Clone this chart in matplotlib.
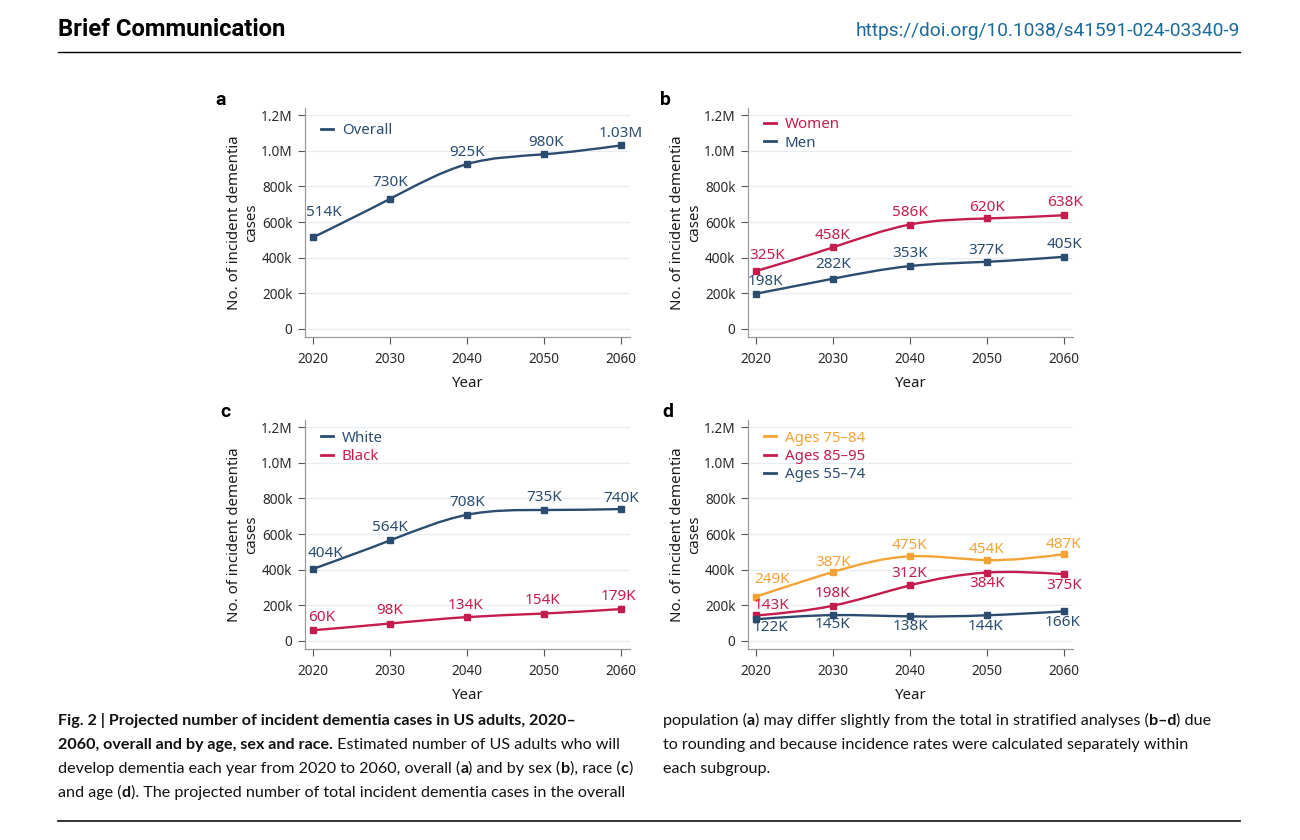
import numpy as np
import matplotlib.pyplot as plt
from matplotlib.path import Path
from matplotlib.patches import PathPatch
from matplotlib.lines import Line2D

# data (thousands of incident dementia cases)
years = [2020, 2030, 2040, 2050, 2060]

overall = [514, 730, 925, 980, 1030]
overall_lbl = ["514K", "730K", "925K", "980K", "1.03M"]
women = [325, 458, 586, 620, 638]
men = [198, 282, 353, 377, 405]
white = [404, 564, 708, 735, 740]
black = [60, 98, 134, 154, 179]
age_75_84 = [249, 387, 475, 454, 487]
age_85_95 = [143, 198, 312, 384, 375]
age_55_74 = [122, 145, 138, 144, 166]

yticks = [0, 200000, 400000, 600000, 800000, 1000000, 1200000]
ytick_lbl = ["0", "200k", "400k", "600k", "800k", "1.0M", "1.2M"]

NAVY = "#2b4c6f"
RED = "#c41c4c"
ORANGE = "#f4a336"
FONT = ["Noto Sans", "DejaVu Sans"]
CAPFONT = ["Lato", "DejaVu Sans"]
BOLDFONT = ["Roboto", "DejaVu Sans"]

W, H = 1300, 840
fig = plt.figure(figsize=(13, 8.4), dpi=100)
fig.patch.set_facecolor("white")


def kfmt(v):
    return "%dK" % v


def smooth_path(x, y):
    # natural cubic spline drawn as bezier segments
    x = np.asarray(x, float)
    y = np.asarray(y, float)
    n = len(x)
    h = x[1] - x[0]
    A = np.zeros((n, n))
    b = np.zeros(n)
    A[0, 0] = A[-1, -1] = 1
    for i in range(1, n - 1):
        A[i, i - 1:i + 2] = [1, 4, 1]
        b[i] = 6 / h**2 * (y[i + 1] - 2 * y[i] + y[i - 1])
    M = np.linalg.solve(A, b)
    m = np.zeros(n)
    for i in range(n - 1):
        m[i] = (y[i + 1] - y[i]) / h - h * (2 * M[i] + M[i + 1]) / 6
    m[-1] = (y[-1] - y[-2]) / h + h * (M[-2] + 2 * M[-1]) / 6
    verts = [(x[0], y[0])]
    codes = [Path.MOVETO]
    for i in range(n - 1):
        verts += [(x[i] + h / 3, y[i] + m[i] * h / 3),
                  (x[i + 1] - h / 3, y[i + 1] - m[i + 1] * h / 3),
                  (x[i + 1], y[i + 1])]
        codes += [Path.CURVE4] * 3
    return Path(verts, codes)


def panel(rect, series, letter, letter_xy, legend_y):
    ax = fig.add_axes(rect)
    for s in series:
        vals = np.array(s["vals"]) * 1000
        ax.add_patch(PathPatch(smooth_path(years, vals), fill=False,
                               ec=s["color"], lw=1.7, zorder=3))
        ax.plot(years, vals, ls="none", marker="s", ms=4.2, color=s["color"], zorder=4)
        labels = s.get("labels") or [kfmt(v) for v in s["vals"]]
        for xx, yy, lb, off in zip(years, vals, labels, s["off"]):
            ax.annotate(lb, (xx, yy), xytext=off, textcoords="offset pixels",
                        ha="center", va="center", color=s["color"],
                        fontsize=11, family=FONT, zorder=5)
    ax.set_xlim(2018.96, 2061.2)
    ax.set_ylim(-45000, 1240000)
    ax.set_xticks(years)
    ax.set_yticks(yticks)
    ax.set_yticklabels(ytick_lbl)
    for t in ax.get_xticklabels() + ax.get_yticklabels():
        t.set_family(FONT)
    ax.tick_params(labelsize=9.8, labelcolor="#2a2a2a", color="#555555",
                   length=5, width=0.8)
    ax.tick_params(axis="y", pad=4)
    ax.tick_params(axis="x", pad=6)
    for sp in ["top", "right"]:
        ax.spines[sp].set_visible(False)
    for sp in ["left", "bottom"]:
        ax.spines[sp].set_color("#9a9a9a")
        ax.spines[sp].set_linewidth(0.9)
    ax.yaxis.grid(True, color="#e7edf1", lw=0.9)
    ax.set_axisbelow(True)
    ax.set_xlabel("Year", fontsize=10.8, family=FONT, color="#1a1a1a", labelpad=6)
    ax.set_ylabel("No. of incident dementia\ncases", fontsize=10.8, family=FONT,
                  color="#1a1a1a", labelpad=1, linespacing=1.2)
    handles = [Line2D([], [], color=s["color"], lw=2) for s in series]
    leg = ax.legend(handles, [s["name"] for s in series], loc="upper left",
                    bbox_to_anchor=(0.03, legend_y), frameon=False,
                    handlelength=0.8, handletextpad=0.6, labelspacing=0.22,
                    prop={"family": FONT, "size": 10.8}, borderaxespad=0)
    for t, s in zip(leg.get_texts(), series):
        t.set_color(s["color"])
    fig.text(letter_xy[0] / W, 1 - letter_xy[1] / H, letter, fontsize=14,
             fontweight="bold", family=BOLDFONT, ha="left", va="center")
    return ax


aw, ah = 325 / W, 229 / H
panel([305 / W, 1 - 337 / H, aw, ah],
      [dict(name="Overall", vals=overall, labels=overall_lbl, color=NAVY,
            off=[(11, 25), (0, 16), (0, 12), (2, 12), (0, 12)])],
      "a", (215, 100), 0.96)
panel([748 / W, 1 - 337 / H, aw, ah],
      [dict(name="Women", vals=women, color=RED,
            off=[(11, 16), (0, 12), (0, 12), (0, 11), (1, 13)]),
       dict(name="Men", vals=men, color=NAVY,
            off=[(9, 12), (0, 14), (0, 13), (-1, 11), (1, 12)])],
      "b", (660, 100), 0.985)
panel([305 / W, 1 - 649 / H, aw, ah],
      [dict(name="White", vals=white, color=NAVY,
            off=[(12, 15), (0, 13), (0, 12), (0, 12), (0, 11)]),
       dict(name="Black", vals=black, color=RED,
            off=[(9, 13), (0, 13), (-1, 12), (-1, 13), (-2, 13)])],
      "c", (220, 412), 0.98)
panel([748 / W, 1 - 649 / H, aw, ah],
      [dict(name="Ages 75\u201384", vals=age_75_84, color=ORANGE,
            off=[(16, 17), (0, 10), (0, 11), (0, 11), (0, 10)]),
       dict(name="Ages 85\u201395", vals=age_85_95, color=RED,
            off=[(16, 10), (0, 12), (-1, 12), (0, -11), (0, -11)]),
       dict(name="Ages 55\u201374", vals=age_55_74, color=NAVY,
            off=[(15, -8), (0, -9), (1, -10), (-1, -11), (-1, -11)])],
      "d", (662, 412), 0.98)

# page header / footer
fig.text(58 / W, 1 - 36 / H, "Brief Communication", fontsize=17.2,
         fontweight="bold", family=BOLDFONT, va="baseline")
fig.text(1240 / W, 1 - 36 / H, "https://doi.org/10.1038/s41591-024-03340-9",
         fontsize=13.8, color="#1b6a9c", family=BOLDFONT,
         ha="right", va="baseline")
fig.add_artist(Line2D([58 / W, 1240 / W], [1 - 52 / H, 1 - 52 / H],
                      color="black", lw=1, transform=fig.transFigure))
fig.add_artist(Line2D([58 / W, 1240 / W], [1 - 821 / H, 1 - 821 / H],
                      color="#222222", lw=1.3, transform=fig.transFigure))

renderer = fig.canvas.get_renderer()


def rich_line(x, y, parts, size=11.6):
    for txt, bold in parts:
        t = fig.text(x / W, 1 - y / H, txt, fontsize=size, family=CAPFONT,
                     fontweight="bold" if bold else "normal", va="baseline",
                     ha="left", color="#111111")
        x += t.get_window_extent(renderer).width


left_lines = [
    [("Fig. 2 | Projected number of incident dementia cases in US adults, 2020\u2013", True)],
    [("2060, overall and by age, sex and race.", True),
     (" Estimated number of US adults who will", False)],
    [("develop dementia each year from 2020 to 2060, overall (", False), ("a", True),
     (") and by sex (", False), ("b", True), ("), race (", False), ("c", True), (")", False)],
    [("and age (", False), ("d", True),
     ("). The projected number of total incident dementia cases in the overall", False)],
]
right_lines = [
    [("population (", False), ("a", True),
     (") may differ slightly from the total in stratified analyses (", False),
     ("b\u2013d", True), (") due", False)],
    [("to rounding and because incidence rates were calculated separately within", False)],
    [("each subgroup.", False)],
]
for i, parts in enumerate(left_lines):
    rich_line(58, 725 + 24 * i, parts)
for i, parts in enumerate(right_lines):
    rich_line(663, 725 + 24 * i, parts)

fig.savefig("out.png", dpi=100, facecolor="white")
